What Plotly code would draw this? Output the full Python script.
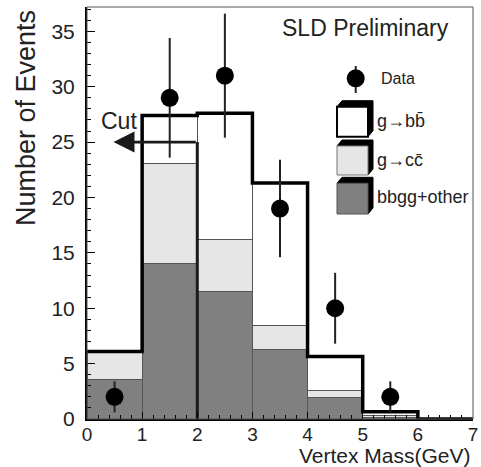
import plotly.graph_objects as go

# ---------------- data ----------------
bin_centers = [0.5, 1.5, 2.5, 3.5, 4.5, 5.5, 6.5]
bin_edges = [0, 1, 2, 3, 4, 5, 6, 7]
bbgg_other = [3.6, 14.0, 11.5, 6.3, 1.9, 0.1, 0.0]
g_to_cc = [2.5, 9.1, 4.7, 2.1, 0.7, 0.25, 0.0]
g_to_bb = [0.0, 4.3, 11.4, 12.9, 3.05, 0.3, 0.0]

data_x = [0.5, 1.5, 2.5, 3.5, 4.5, 5.5]
data_y = [2, 29, 31, 19, 10, 2]
data_err = [1.4, 5.4, 5.6, 4.4, 3.2, 1.4]

cut_x = 2.0
cut_y = 25.0
cut_arrow_tip = 0.48

x_ticks = [0, 1, 2, 3, 4, 5, 6, 7]
y_ticks = [0, 5, 10, 15, 20, 25, 30, 35]

totals = [a + b + c for a, b, c in zip(bbgg_other, g_to_cc, g_to_bb)]
outline_y = totals + [totals[-1]]

# ---------------- geometry helpers (pixels -> paper) ----------------
W, H = 481, 467
L, R, T, B = 87, 8, 7, 48
PW, PH = W - L - R, H - T - B


def px(x):
    return (x - L) / PW


def py(y):
    return (H - B - y) / PH


FONT = "Liberation Sans, Arial, Helvetica, sans-serif"

fig = go.Figure()

fig.add_trace(go.Bar(x=bin_centers, y=bbgg_other, width=1,
                     marker=dict(color="#808080", line=dict(color="#555555", width=1)),
                     showlegend=False, hoverinfo="skip"))
fig.add_trace(go.Bar(x=bin_centers, y=g_to_cc, width=1,
                     marker=dict(color="#e6e6e6", line=dict(color="#555555", width=1)),
                     showlegend=False, hoverinfo="skip"))
fig.add_trace(go.Bar(x=bin_centers, y=g_to_bb, width=1,
                     marker=dict(color="#ffffff", line=dict(color="#555555", width=1)),
                     showlegend=False, hoverinfo="skip"))

# total outline
fig.add_trace(go.Scatter(x=bin_edges, y=outline_y, mode="lines",
                         line=dict(color="#000000", width=3.5, shape="hv"),
                         showlegend=False, hoverinfo="skip"))

# cut line
fig.add_trace(go.Scatter(x=[cut_x, cut_x], y=[0, cut_y], mode="lines",
                         line=dict(color="#1a1a1a", width=3),
                         showlegend=False, hoverinfo="skip"))

# data points
fig.add_trace(go.Scatter(x=data_x, y=data_y, mode="markers",
                         marker=dict(color="#000000", size=18),
                         error_y=dict(type="data", array=data_err, visible=True,
                                      color="#222222", thickness=2, width=0),
                         showlegend=False, hoverinfo="skip"))

annotations = []
shapes = []

# cut arrow
annotations.append(dict(x=cut_arrow_tip, y=cut_y, ax=cut_x, ay=cut_y,
                        xref="x", yref="y", axref="x", ayref="y",
                        showarrow=True, arrowhead=2, arrowsize=1.5, arrowwidth=2.8,
                        arrowcolor="#1a1a1a", text=""))
annotations.append(dict(x=0.58, y=26.9, xref="x", yref="y", text="Cut",
                        xanchor="center", yanchor="middle",
                        showarrow=False, font=dict(family=FONT, size=23, color="#222222")))

# title
annotations.append(dict(x=px(365), y=py(28), xref="paper", yref="paper",
                        xanchor="center", yanchor="middle",
                        text="SLD Preliminary", showarrow=False,
                        font=dict(family=FONT, size=23, color="#222222")))

# axis titles
annotations.append(dict(x=px(473), y=py(455), xref="paper", yref="paper",
                        xanchor="right", yanchor="middle",
                        text="Vertex Mass(GeV)", showarrow=False,
                        font=dict(family=FONT, size=21, color="#222222")))
annotations.append(dict(x=px(26), y=py(118), xref="paper", yref="paper",
                        xanchor="center", yanchor="middle", textangle=-90,
                        text="Number of Events", showarrow=False,
                        font=dict(family=FONT, size=27, color="#222222")))

# legend: data
cx, cy, r = 355.7, 78.3, 9
shapes.append(dict(type="line", xref="paper", yref="paper",
                   x0=px(cx), x1=px(cx), y0=py(66), y1=py(93),
                   line=dict(color="#222222", width=2)))
shapes.append(dict(type="circle", xref="paper", yref="paper",
                   x0=px(cx - r), x1=px(cx + r), y0=py(cy + r), y1=py(cy - r),
                   fillcolor="#000000", line=dict(color="#000000", width=0)))
annotations.append(dict(x=px(379), y=py(78), xref="paper", yref="paper",
                        xanchor="left", yanchor="middle", text="Data", showarrow=False,
                        font=dict(family=FONT, size=16, color="#222222")))

# legend: 3D boxes
boxes = [
    (106.7, 136.7, "#ffffff", "#000000", 2, "g\u2192bb\u0304", 121),
    (146.0, 175.0, "#e6e6e6", "#777777", 1, "g\u2192cc\u0304", 160),
    (183.3, 214.0, "#808080", "#555555", 1, "bbgg+other", 197),
]
x0b, x1b, dx, dy = 337, 368, 5, 6
for top, bot, fill, edge, ew, label, ty in boxes:
    path = (f"M {px(x0b)} {py(top)} L {px(x0b + dx)} {py(top - dy)} "
            f"L {px(x1b + dx)} {py(top - dy)} L {px(x1b + dx)} {py(bot - dy)} "
            f"L {px(x1b)} {py(bot)} L {px(x1b)} {py(top)} Z")
    shapes.append(dict(type="path", xref="paper", yref="paper", path=path,
                       fillcolor="#000000", line=dict(color="#000000", width=1)))
    shapes.append(dict(type="rect", xref="paper", yref="paper",
                       x0=px(x0b), x1=px(x1b), y0=py(bot), y1=py(top),
                       fillcolor=fill, line=dict(color=edge, width=ew)))
    annotations.append(dict(x=px(375), y=py(ty), xref="paper", yref="paper",
                            xanchor="left", yanchor="middle", text=label, showarrow=False,
                            font=dict(family=FONT, size=18, color="#222222")))

# frame (top / right)
shapes.append(dict(type="rect", xref="paper", yref="paper", x0=0, x1=1, y0=0, y1=1,
                   line=dict(color="#555555", width=1), layer="above"))

fig.update_layout(
    width=W, height=H,
    margin=dict(l=L, r=R, t=T, b=B, autoexpand=False),
    paper_bgcolor="#ffffff", plot_bgcolor="#ffffff",
    barmode="stack",
    showlegend=False,
    annotations=annotations,
    shapes=shapes,
    font=dict(family=FONT, color="#222222"),
)
fig.update_xaxes(range=[0, 7], tickvals=x_ticks, ticktext=[str(v) for v in x_ticks],
                 ticks="inside", ticklen=7, tickwidth=1.2, tickcolor="#000000",
                 minor=dict(dtick=0.2, ticks="inside", ticklen=4, tickcolor="#000000", tickwidth=1),
                 showline=True, linecolor="#000000", linewidth=2,
                 showgrid=False, zeroline=False, automargin=False,
                 tickfont=dict(family=FONT, size=19, color="#222222"),
                 ticklabelstandoff=-3,
                 fixedrange=True)
fig.update_yaxes(range=[0, 37.2], tickvals=y_ticks, ticktext=[str(v) for v in y_ticks],
                 ticks="inside", ticklen=8, tickwidth=1.2, tickcolor="#000000",
                 minor=dict(dtick=1, ticks="inside", ticklen=4, tickcolor="#000000", tickwidth=1),
                 showline=True, linecolor="#000000", linewidth=2,
                 showgrid=False, zeroline=False, automargin=False,
                 tickfont=dict(family=FONT, size=21, color="#222222"),
                 ticklabelstandoff=6,
                 fixedrange=True)

fig.write_html("out.html", config={"displayModeBar": False},
               post_script="document.body.style.margin='0';document.body.style.overflow='hidden';")
